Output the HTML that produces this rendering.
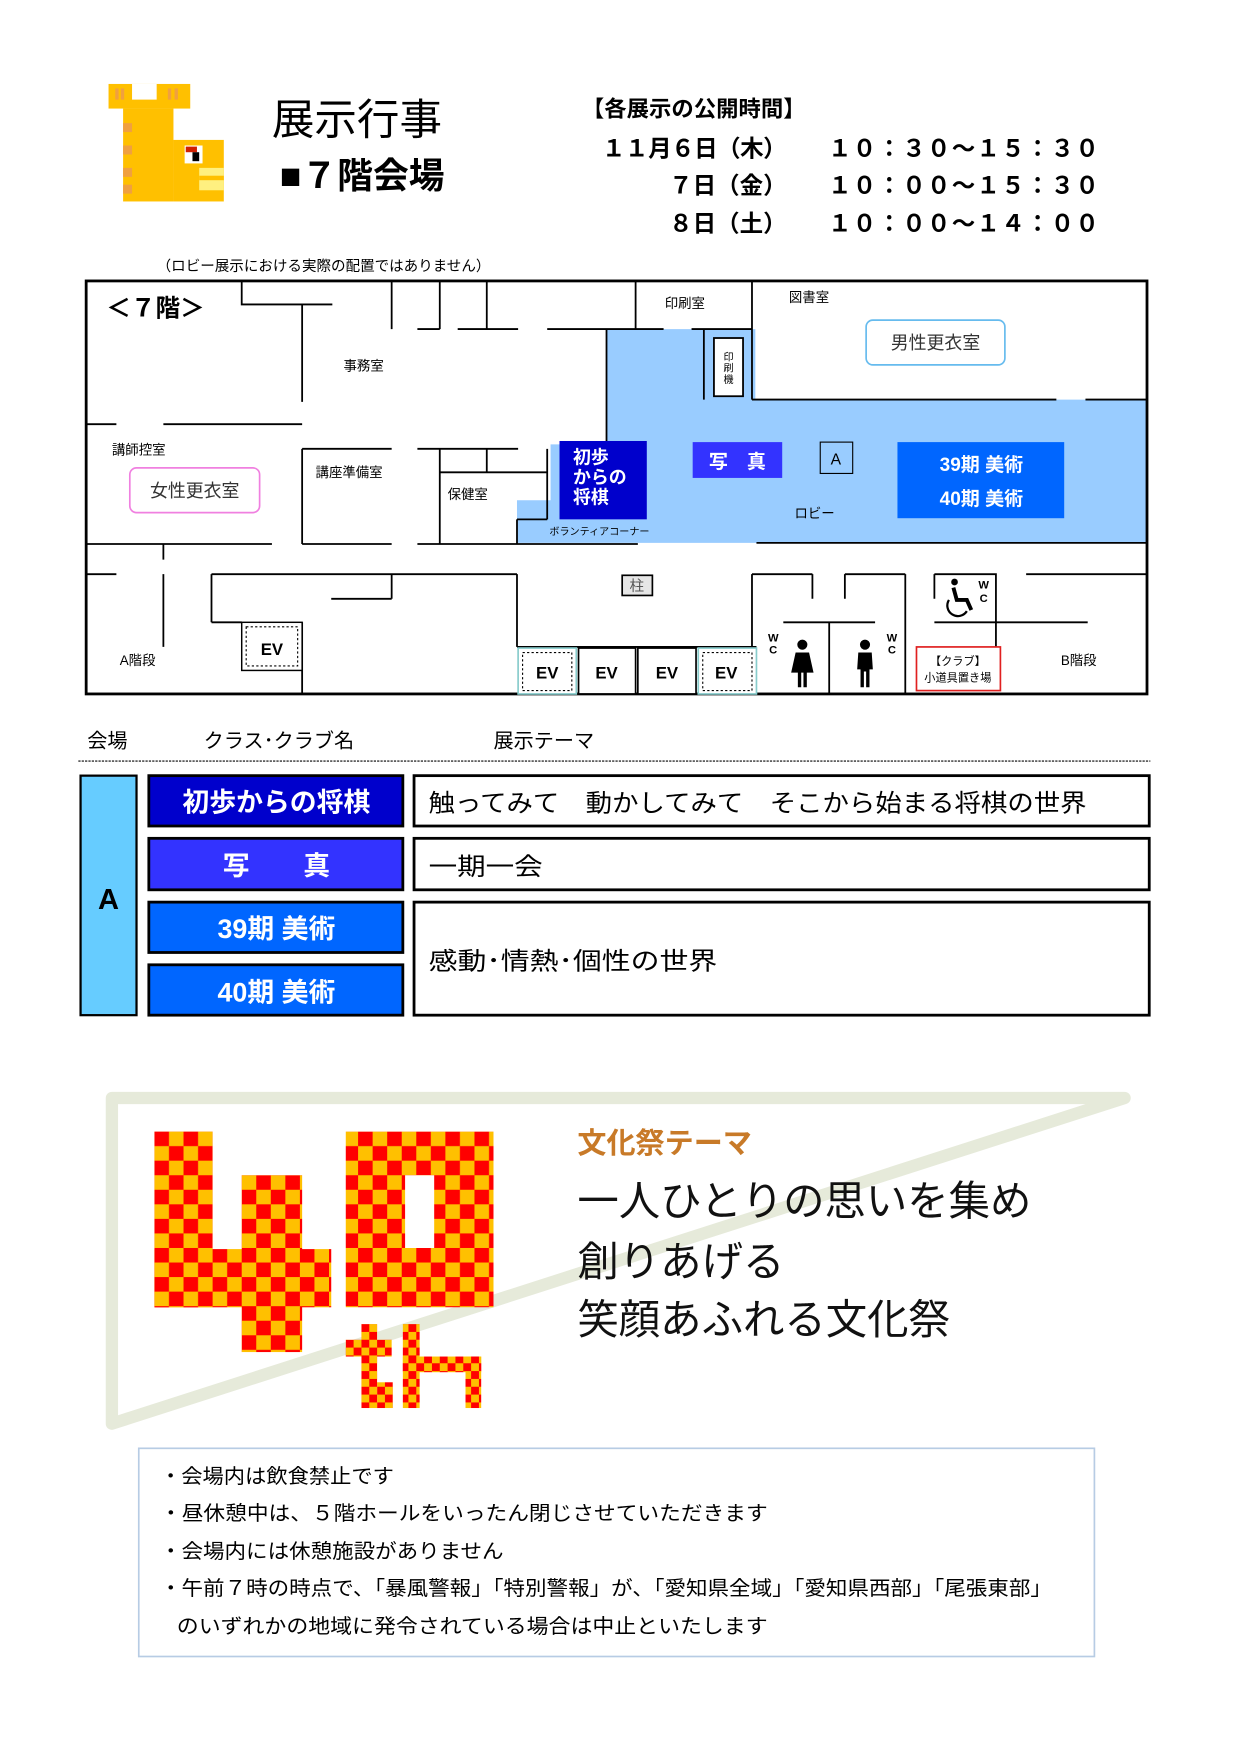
<!DOCTYPE html>
<html><head><meta charset="utf-8"><style>
html,body{margin:0;padding:0;background:#fff;}
svg{display:block;}
text{font-family:"Liberation Sans","Noto Sans CJK JP",sans-serif;}
</style></head><body>
<svg width="1241" height="1755" viewBox="0 0 1109 1568" preserveAspectRatio="none" xmlns="http://www.w3.org/2000/svg">
<defs>
<pattern id="ch" width="26" height="26" patternUnits="userSpaceOnUse" x="138" y="1011">
<rect width="26" height="26" fill="#FFC000"/><rect width="13" height="13" fill="#FF0000"/><rect x="13" y="13" width="13" height="13" fill="#FF0000"/>
</pattern>
<pattern id="ch2" width="14" height="14" patternUnits="userSpaceOnUse" x="309" y="1183">
<rect width="14" height="14" fill="#FFC000"/><rect width="7" height="7" fill="#FF0000"/><rect x="7" y="7" width="7" height="7" fill="#FF0000"/>
</pattern>
</defs>

<!-- logo -->
<g>
<rect x="97" y="75" width="73" height="22" fill="#FFC000"/>
<rect x="118" y="75" width="22" height="14" fill="#fff"/>
<rect x="110" y="97" width="45" height="83" fill="#FFC000"/>
<rect x="155" y="125" width="45" height="55" fill="#FFC000"/>
<rect x="165" y="130" width="16" height="16" fill="#fff"/>
<rect x="166" y="131" width="10" height="5" fill="#D02000"/>
<rect x="172" y="136" width="6" height="8" fill="#000"/>
<rect x="178" y="150" width="22" height="20" fill="#FFF080"/>
<rect x="178" y="157" width="22" height="4" fill="#FFC000"/>
<rect x="110" y="110" width="8" height="8" fill="#F0A040"/>
<rect x="110" y="130" width="8" height="8" fill="#F0A040"/>
<rect x="110" y="150" width="8" height="8" fill="#F0A040"/>
<rect x="110" y="165" width="8" height="8" fill="#F0A040"/>
<rect x="103" y="79" width="3" height="10" fill="#F0A040"/><rect x="108" y="79" width="3" height="10" fill="#F0A040"/>
<rect x="150" y="79" width="3" height="10" fill="#F0A040"/><rect x="156" y="79" width="3" height="10" fill="#F0A040"/>
</g>

<text x="243" y="120" font-size="38">展示行事</text>
<text x="250" y="168" font-size="32" font-weight="bold">■７階会場</text>
<text x="520" y="104" font-size="20" font-weight="bold">【各展示の公開時間】</text>
<g font-size="21" font-weight="bold">
<text x="538" y="140" textLength="165" lengthAdjust="spacing">１１月６日（木）</text>
<text x="703" y="173" text-anchor="end">７日（金）</text>
<text x="703" y="207" text-anchor="end">８日（土）</text>
<text x="740" y="140" textLength="242" lengthAdjust="spacing">１０：３０～１５：３０</text>
<text x="740" y="173" textLength="242" lengthAdjust="spacing">１０：００～１５：３０</text>
<text x="740" y="207" textLength="242" lengthAdjust="spacing">１０：００～１４：００</text>
</g>
<text x="140" y="242" font-size="13">（ロビー展示における実際の配置ではありません）</text>

<!-- floor plan -->
<polygon points="542,294 675,294 675,357 1025,357 1025,485 462,485 462,447 492,447 492,397 542,397" fill="#99CCFF"/>
<rect x="77" y="251" width="948" height="369" fill="none" stroke="#000" stroke-width="2.5"/>
<g stroke="#000" stroke-width="1.6" fill="none">
<path d="M216 251V272H297M270 272V359M77 379H104M146 379H270"/>
<path d="M350 251V294M393 251V294M435 251V294M373 294H393M409 294H463M489 294H593M618 294H672M568 251V294M672 251V357M672 357H944M970 357H1025"/>
<path d="M629 294V357M542 294V395"/>
<rect x="638" y="302" width="26" height="52" fill="#fff"/>
<path d="M270 401H350M270 401V486M373 401H463M393 401V486M435 401V422M393 422H489M489 401V464M462 464H489M462 464V486"/>
<path d="M77 486H243M270 486H350M373 486H570M676 485H1025"/>
<path d="M146 486V500M146 513V578M77 513H104"/>
<path d="M189 513H462M189 513V556M189 556H216M350 513V535M296 535H350M270 556V620M462 513V578M462 578H676"/>
<path d="M672 513H726M726 513V535M755 513H809M755 513V535M809 513V620M672 513V620M700 556H782M741 556V620"/>
<path d="M835 513H890V556M835 513V535M890 556V578M835 556H972M917 513H1025"/>
</g>
<rect x="216" y="556" width="54" height="43" fill="#fff" stroke="#000" stroke-width="1.3"/>
<rect x="220" y="560" width="46" height="35" fill="none" stroke="#000" stroke-width="1" stroke-dasharray="2,2"/>
<text x="243" y="585" font-size="15" font-weight="bold" text-anchor="middle">EV</text>
<g stroke-width="1.5" fill="#fff">
<rect x="463" y="579" width="52" height="41" stroke="#8cc"/>
<rect x="517" y="579" width="51" height="41" stroke="#000"/>
<rect x="570" y="579" width="52" height="41" stroke="#000"/>
<rect x="624" y="579" width="52" height="41" stroke="#8cc"/>
</g>
<rect x="467" y="583" width="44" height="34" fill="none" stroke="#000" stroke-dasharray="2,2"/>
<rect x="628" y="583" width="44" height="34" fill="none" stroke="#000" stroke-dasharray="2,2"/>
<g font-size="15" font-weight="bold" text-anchor="middle">
<text x="489" y="606">EV</text><text x="542" y="606">EV</text><text x="596" y="606">EV</text><text x="649" y="606">EV</text>
</g>
<rect x="556" y="514" width="27" height="18" fill="#e6e6e6" stroke="#000" stroke-width="1.5"/>
<text x="569" y="528" font-size="13" text-anchor="middle" fill="#555">柱</text>

<text x="95" y="283" font-size="22" font-weight="bold">＜７階＞</text>
<g font-size="12">
<text x="307" y="331">事務室</text>
<text x="100" y="406">講師控室</text>
<text x="282" y="426">講座準備室</text>
<text x="400" y="446">保健室</text>
<text x="594" y="275">印刷室</text>
<text x="705" y="270">図書室</text>
<text x="710" y="463">ロビー</text>
<text x="107" y="594">A階段</text>
<text x="948" y="594">B階段</text>
</g>
<text x="491" y="478" font-size="9">ボランティアコーナー</text>
<g font-size="9" text-anchor="middle"><text x="651" y="322">印</text><text x="651" y="332">刷</text><text x="651" y="342">機</text></g>
<rect x="116" y="418" width="116" height="40" rx="6" fill="#fff" stroke="#F080E0" stroke-width="1.5"/>
<text x="174" y="444" font-size="16" text-anchor="middle" fill="#333">女性更衣室</text>
<rect x="774" y="286" width="124" height="40" rx="6" fill="#fff" stroke="#66BBEE" stroke-width="1.5"/>
<text x="836" y="312" font-size="16" text-anchor="middle" fill="#333">男性更衣室</text>

<rect x="500" y="394" width="78" height="70" fill="#0000CC"/>
<g font-size="16" font-weight="bold" fill="#fff"><text x="512" y="414">初歩</text><text x="512" y="432">からの</text><text x="512" y="450">将棋</text></g>
<rect x="619" y="395" width="80" height="32" fill="#3333FF"/>
<text x="659" y="418" font-size="17" font-weight="bold" fill="#fff" text-anchor="middle">写　真</text>
<rect x="733" y="395" width="29" height="28" fill="none" stroke="#000" stroke-width="1"/>
<text x="747" y="415" font-size="14" text-anchor="middle">A</text>
<rect x="802" y="395" width="149" height="68" fill="#0066FF"/>
<g font-size="17" fill="#fff" text-anchor="middle" font-weight="bold"><text x="877" y="421">39期 美術</text><text x="877" y="451">40期 美術</text></g>

<g font-size="10" font-weight="bold" text-anchor="middle"><text x="691" y="573">W</text><text x="691" y="584">C</text><text x="797" y="573">W</text><text x="797" y="584">C</text><text x="879" y="526">W</text><text x="879" y="538">C</text></g>
<g fill="#000">
<circle cx="717" cy="576" r="4.5"/><path d="M711 583H723L727 601H721V614H718V601H716V614H713V601H707Z"/>
<circle cx="773" cy="576" r="4.5"/><path d="M767 583H779L780 598H777V614H774V600H772V614H769V598H766Z"/>
</g>
<g stroke="#000" fill="none">
<circle cx="853" cy="520" r="3" fill="#000" stroke="none"/>
<path d="M852 525L855 536H864L868 545" stroke-width="3.5"/>
<path d="M848 536A9 9 0 1 0 864 546" stroke-width="2"/>
</g>
<rect x="819" y="578" width="75" height="39" fill="#fff" stroke="#E02020" stroke-width="1.5"/>
<g font-size="10" text-anchor="middle"><text x="856" y="594">【クラブ】</text><text x="856" y="609">小道具置き場</text></g>

<!-- table -->
<g font-size="18"><text x="78" y="668">会場</text><text x="182" y="668">クラス･クラブ名</text><text x="441" y="668">展示テーマ</text></g>
<line x1="70" y1="680" x2="1028" y2="680" stroke="#000" stroke-width="1" stroke-dasharray="2,1"/>
<rect x="72" y="693" width="50" height="214" fill="#66CCFF" stroke="#000" stroke-width="2"/>
<text x="97" y="812" font-size="26" font-weight="bold" text-anchor="middle">A</text>
<g stroke="#000" stroke-width="2.5">
<rect x="133" y="693" width="227" height="45" fill="#0000CC"/>
<rect x="133" y="749" width="227" height="46" fill="#3333FF"/>
<rect x="133" y="806" width="227" height="45" fill="#0066FF"/>
<rect x="133" y="862" width="227" height="45" fill="#0066FF"/>
<rect x="370" y="693" width="657" height="45" fill="#fff"/>
<rect x="370" y="749" width="657" height="46" fill="#fff"/>
<rect x="370" y="806" width="657" height="101" fill="#fff"/>
</g>
<g font-size="24" font-weight="bold" fill="#fff" text-anchor="middle">
<text x="247" y="725">初歩からの将棋</text>
<text x="247" y="782">写　　真</text>
<text x="247" y="838">39期 美術</text>
<text x="247" y="895">40期 美術</text>
</g>
<g font-size="22"><text x="383" y="725" textLength="588" lengthAdjust="spacingAndGlyphs">触ってみて　動かしてみて　そこから始まる将棋の世界</text><text x="383" y="782" textLength="102" lengthAdjust="spacingAndGlyphs">一期一会</text><text x="383" y="866" textLength="258" lengthAdjust="spacingAndGlyphs">感動･情熱･個性の世界</text></g>

<!-- pennant -->
<path d="M100 981L1005 981L100 1272Z" fill="none" stroke="#E6EADA" stroke-width="11" stroke-linejoin="round"/>
<g fill="url(#ch)">
<rect x="138" y="1011" width="52" height="157"/>
<rect x="216" y="1050" width="54" height="158"/>
<rect x="138" y="1116" width="158" height="52"/>
<path d="M309 1011H441V1168H309ZM362 1050V1115H388V1050Z" fill-rule="evenodd"/>
</g>
<g fill="url(#ch2)">
<rect x="323" y="1183" width="14" height="75"/><rect x="309" y="1197" width="41" height="15"/><rect x="337" y="1235" width="14" height="23"/>
<rect x="360" y="1183" width="15" height="75"/><rect x="360" y="1212" width="70" height="14"/><rect x="416" y="1212" width="14" height="46"/>
</g>
<text x="516" y="1030" font-size="26" font-weight="bold" fill="#C87A28">文化祭テーマ</text>
<g font-size="37" fill="#111"><text x="516" y="1086">一人ひとりの思いを集め</text><text x="516" y="1140">創りあげる</text><text x="516" y="1192">笑顔あふれる文化祭</text></g>

<rect x="124" y="1294" width="854" height="186" fill="#fff" stroke="#B7CCE4" stroke-width="1.5"/>
<g font-size="18">
<text x="143" y="1325" textLength="209" lengthAdjust="spacingAndGlyphs">・会場内は飲食禁止です</text>
<text x="143" y="1358" textLength="543" lengthAdjust="spacingAndGlyphs">・昼休憩中は、５階ホールをいったん閉じさせていただきます</text>
<text x="143" y="1392" textLength="307" lengthAdjust="spacingAndGlyphs">・会場内には休憩施設がありません</text>
<text x="143" y="1425" textLength="797" lengthAdjust="spacingAndGlyphs">・午前７時の時点で、「暴風警報」「特別警報」が、「愛知県全域」「愛知県西部」「尾張東部」</text>
<text x="158" y="1459" textLength="528" lengthAdjust="spacingAndGlyphs">のいずれかの地域に発令されている場合は中止といたします</text>
</g>
</svg>
</body></html>
